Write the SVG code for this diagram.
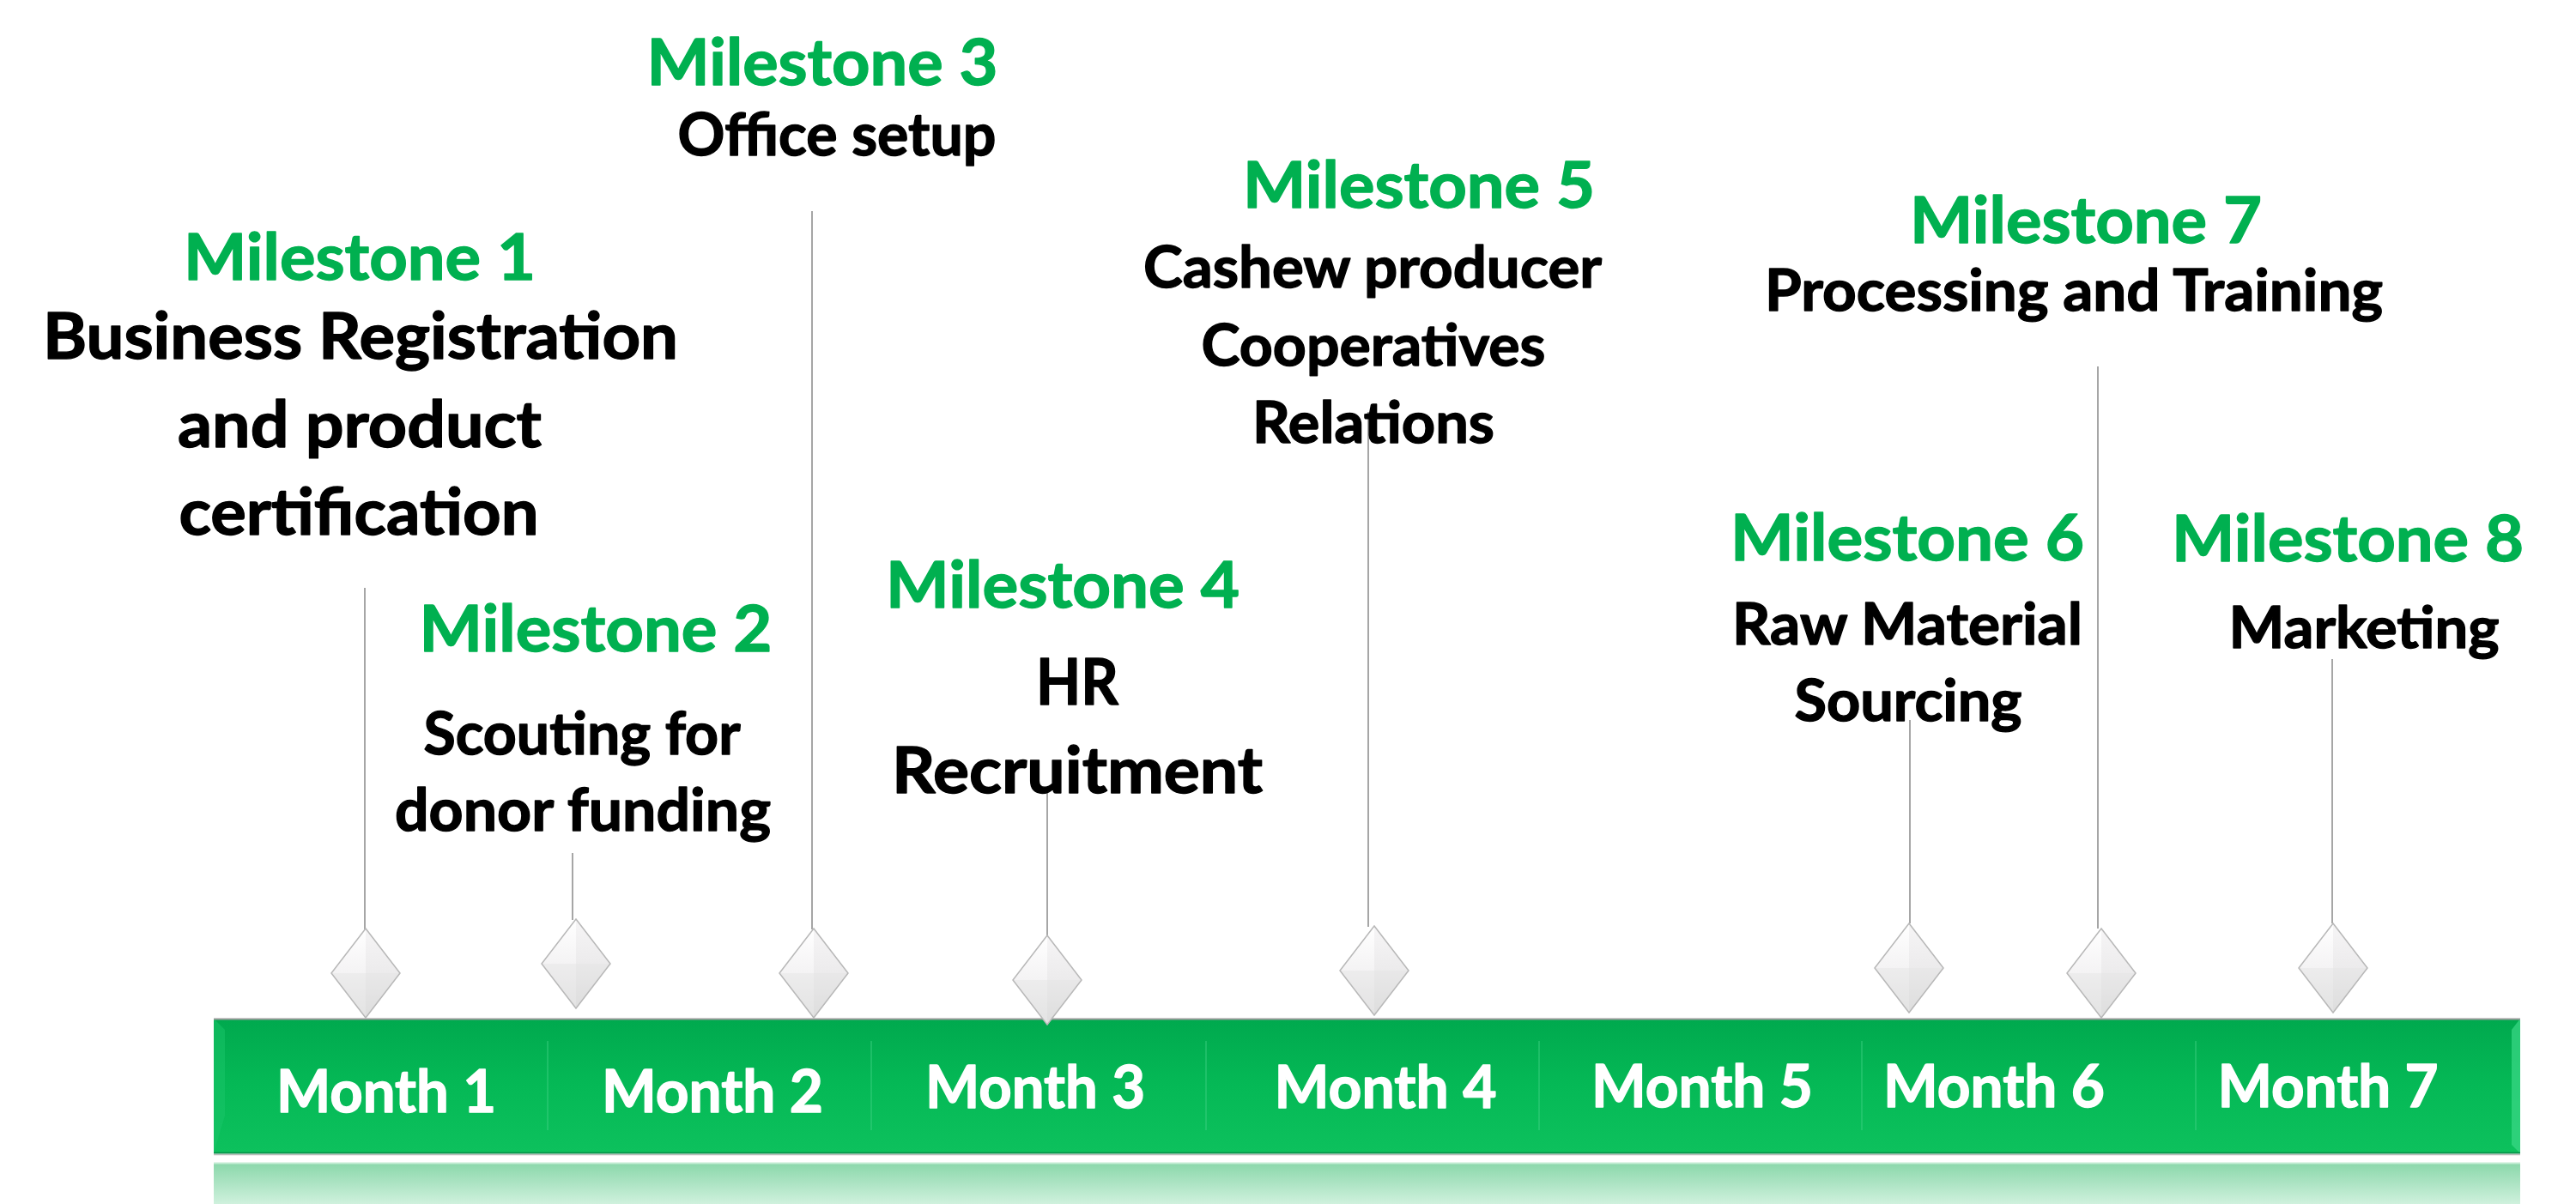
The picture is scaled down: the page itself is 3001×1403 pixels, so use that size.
<svg xmlns="http://www.w3.org/2000/svg" width="3001" height="1403" viewBox="0 0 3001 1403">
<defs>
<style>
text{font-family:Lato,"Open Sans","Liberation Sans",sans-serif;font-weight:bold;text-anchor:middle;stroke-width:1.4px;stroke-linejoin:round}
.ms{fill:#00B050;stroke:#00B050;font-size:75px}
.ds{fill:#000000;stroke:#000000}
.mo{fill:#FFFFFF;stroke:#FFFFFF;font-size:68px}
.conn{stroke:#A6A6A6;stroke-width:2;fill:none}
.div{stroke:#3FD083;stroke-width:1.5;opacity:0.6}
</style>
<linearGradient id="barFill" x1="0" y1="0" x2="0" y2="1">
<stop offset="0" stop-color="#00A94E"/>
<stop offset="0.5" stop-color="#05B956"/>
<stop offset="1" stop-color="#0DC15D"/>
</linearGradient>
<linearGradient id="reflFill" x1="0" y1="0" x2="0" y2="1">
<stop offset="0" stop-color="#8AD7AA"/>
<stop offset="1" stop-color="#CFF1DD"/>
</linearGradient>
<linearGradient id="diaL" x1="0" y1="0" x2="0" y2="1">
<stop offset="0" stop-color="#FFFFFF"/>
<stop offset="0.5" stop-color="#F4F3F4"/>
<stop offset="1" stop-color="#E2E2E2"/>
</linearGradient>
<linearGradient id="diaR" x1="0" y1="0" x2="0" y2="1">
<stop offset="0" stop-color="#F6F5F6"/>
<stop offset="0.5" stop-color="#ECEBEC"/>
<stop offset="1" stop-color="#D8D8D8"/>
</linearGradient>
<g id="diamond">
<path d="M0,-52 L-40,0 L0,52 Z" fill="url(#diaL)"/>
<path d="M0,-52 L40,0 L0,52 Z" fill="url(#diaR)"/>
<path d="M-40,0 L40,0 L0,52 Z" fill="#E4E4E4" opacity="0.45"/>
<path d="M0,-52 L40,0 L0,52 L-40,0 Z" fill="none" stroke="#B8B8B8" stroke-width="1.5"/>
</g>
</defs>
<rect x="0" y="0" width="3001" height="1403" fill="#FFFFFF"/>

<g id="timeline-bar">
<rect x="249" y="1355" width="2687" height="48" fill="url(#reflFill)"/>
<line x1="249" y1="1355.5" x2="2936" y2="1355.5" stroke="#C4ECD4" stroke-width="2"/>
<rect x="249" y="1187" width="2687" height="157" fill="url(#barFill)"/>
<path d="M249,1187 L262,1200 L262,1300 L249,1344 Z" fill="#19C56A" opacity="0.5"/>
<path d="M2936,1187 L2926,1200 L2926,1334 L2936,1344 Z" fill="#3CD888" opacity="0.7"/>
<line x1="249" y1="1187.5" x2="2936" y2="1187.5" stroke="#9A9A9A" stroke-width="2"/>
<line x1="249" y1="1343.5" x2="2936" y2="1343.5" stroke="#08934A" stroke-width="2"/>
<line x1="249" y1="1345.5" x2="2936" y2="1345.5" stroke="#BBBBBB" stroke-width="1.5"/>
<line class="div" x1="638" y1="1213" x2="638" y2="1317"/>
<line class="div" x1="1015" y1="1213" x2="1015" y2="1317"/>
<line class="div" x1="1405" y1="1213" x2="1405" y2="1317"/>
<line class="div" x1="1793" y1="1213" x2="1793" y2="1317"/>
<line class="div" x1="2169" y1="1213" x2="2169" y2="1317"/>
<line class="div" x1="2558" y1="1213" x2="2558" y2="1317"/>
<text class="mo" x="450" y="1296" textLength="256" lengthAdjust="spacingAndGlyphs">Month 1</text>
<text class="mo" x="830" y="1296" textLength="258" lengthAdjust="spacingAndGlyphs">Month 2</text>
<text class="mo" x="1206" y="1291" textLength="256" lengthAdjust="spacingAndGlyphs">Month 3</text>
<text class="mo" x="1614" y="1291" textLength="259" lengthAdjust="spacingAndGlyphs">Month 4</text>
<text class="mo" x="1983" y="1290" textLength="258" lengthAdjust="spacingAndGlyphs">Month 5</text>
<text class="mo" x="2323" y="1290" textLength="258" lengthAdjust="spacingAndGlyphs">Month 6</text>
<text class="mo" x="2712" y="1290" textLength="257" lengthAdjust="spacingAndGlyphs">Month 7</text>
</g>

<g id="connectors">
<line class="conn" x1="425" y1="685" x2="425" y2="1083"/>
<line class="conn" x1="667" y1="994" x2="667" y2="1072"/>
<line class="conn" x1="946" y1="246" x2="946" y2="1083"/>
<line class="conn" x1="1220" y1="920" x2="1220" y2="1092"/>
<line class="conn" x1="1594" y1="480" x2="1594" y2="1080"/>
<line class="conn" x1="2225" y1="839" x2="2225" y2="1076"/>
<line class="conn" x1="2444" y1="427" x2="2444" y2="1082"/>
<line class="conn" x1="2717" y1="768" x2="2717" y2="1076"/>
</g>

<g id="milestone-1">
<text class="ms" x="419" y="326" textLength="410" lengthAdjust="spacingAndGlyphs">Milestone 1</text>
<text class="ds" font-size="75" x="420" y="418" textLength="740" lengthAdjust="spacingAndGlyphs">Business Registration</text>
<text class="ds" font-size="75" x="419" y="521" textLength="424" lengthAdjust="spacingAndGlyphs">and product</text>
<text class="ds" font-size="75" x="418" y="623" textLength="419" lengthAdjust="spacingAndGlyphs">certification</text>
<use href="#diamond" x="426" y="1134"/>
</g>

<g id="milestone-2">
<text class="ms" x="694" y="759" textLength="411" lengthAdjust="spacingAndGlyphs">Milestone 2</text>
<text class="ds" font-size="69" x="678" y="879" textLength="369" lengthAdjust="spacingAndGlyphs">Scouting for</text>
<text class="ds" font-size="69" x="679" y="968" textLength="438" lengthAdjust="spacingAndGlyphs">donor funding</text>
<use href="#diamond" x="671" y="1123"/>
</g>

<g id="milestone-3">
<text class="ms" x="958" y="99" textLength="409" lengthAdjust="spacingAndGlyphs">Milestone 3</text>
<text class="ds" font-size="68" x="975" y="181" textLength="371" lengthAdjust="spacingAndGlyphs">Office setup</text>
<use href="#diamond" x="948" y="1134"/>
</g>

<g id="milestone-4">
<text class="ms" x="1238" y="708" textLength="412" lengthAdjust="spacingAndGlyphs">Milestone 4</text>
<text class="ds" font-size="75" x="1255" y="821" textLength="96" lengthAdjust="spacingAndGlyphs">HR</text>
<text class="ds" font-size="75" x="1255" y="924" textLength="432" lengthAdjust="spacingAndGlyphs">Recruitment</text>
<use href="#diamond" x="1220" y="1142"/>
</g>

<g id="milestone-5">
<text class="ms" x="1653" y="242" textLength="410" lengthAdjust="spacingAndGlyphs">Milestone 5</text>
<text class="ds" font-size="67" x="1599" y="335" textLength="534" lengthAdjust="spacingAndGlyphs">Cashew producer</text>
<text class="ds" font-size="67" x="1600" y="426" textLength="401" lengthAdjust="spacingAndGlyphs">Cooperatives</text>
<text class="ds" font-size="67" x="1600" y="516" textLength="282" lengthAdjust="spacingAndGlyphs">Relations</text>
<use href="#diamond" x="1601" y="1131"/>
</g>

<g id="milestone-6">
<text class="ms" x="2222" y="653" textLength="412" lengthAdjust="spacingAndGlyphs">Milestone 6</text>
<text class="ds" font-size="66" x="2222" y="751" textLength="408" lengthAdjust="spacingAndGlyphs">Raw Material</text>
<text class="ds" font-size="66" x="2223" y="840" textLength="265" lengthAdjust="spacingAndGlyphs">Sourcing</text>
<use href="#diamond" x="2224" y="1128"/>
</g>

<g id="milestone-7">
<text class="ms" x="2430" y="283" textLength="410" lengthAdjust="spacingAndGlyphs">Milestone 7</text>
<text class="ds" font-size="67" x="2416" y="362" textLength="720" lengthAdjust="spacingAndGlyphs">Processing and Training</text>
<use href="#diamond" x="2448" y="1134"/>
</g>

<g id="milestone-8">
<text class="ms" x="2735" y="654" textLength="410" lengthAdjust="spacingAndGlyphs">Milestone 8</text>
<text class="ds" font-size="67" x="2754" y="755" textLength="315" lengthAdjust="spacingAndGlyphs">Marketing</text>
<use href="#diamond" x="2718" y="1128"/>
</g>
</svg>
